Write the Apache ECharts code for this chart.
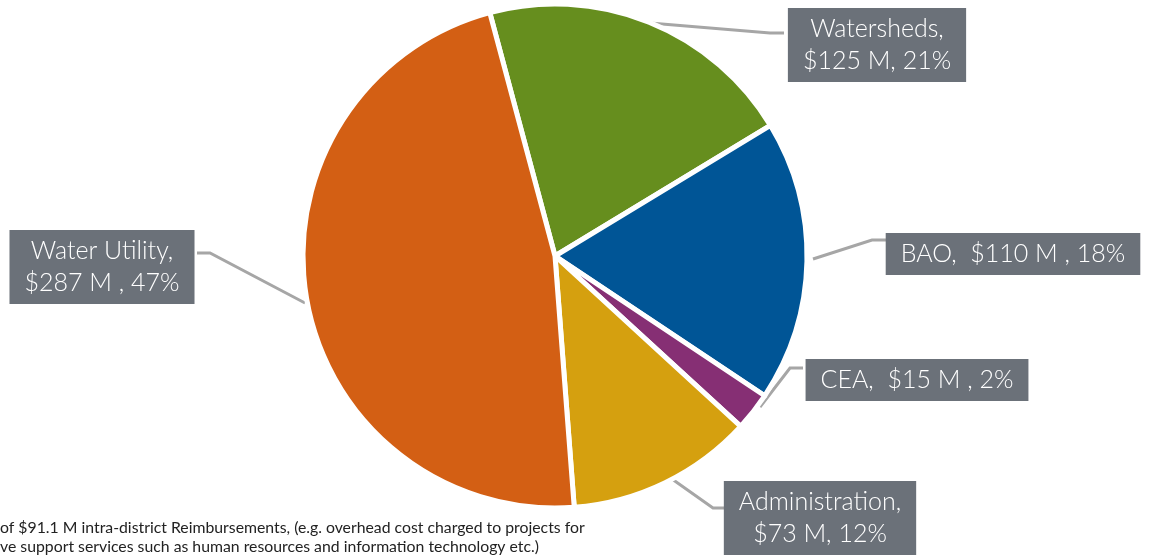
<!DOCTYPE html>
<html>
<head>
<meta charset="utf-8">
<script src="https://cdn.jsdelivr.net/npm/echarts@6/dist/echarts.min.js"></script>
<style>
	html, body { margin: 0; padding: 0; background: #fff; }
	#budgetpie { width: 1151px; height: 555px; }
</style>
</head>
<body>
<div id="budgetpie"></div>
<script>
	// slices, clockwise from the top
	var names = ['Watersheds', 'BAO', 'CEA', 'Administration', 'Water Utility'];
	var values = [125, 110, 15, 73, 287];          // $ M
	var pcts = ['21%', '18%', '2%', '12%', '47%'];
	var colors = ['#668e1e', '#005596', '#862f74', '#d5a00f', '#d35f14'];
	var labeltexts = [
		'Watersheds,\n$125 M, 21%',
		'BAO,  $110 M , 18%',
		'CEA,  $15 M , 2%',
		'Administration,\n$73 M, 12%',
		'Water Utility,\n$287 M , 47%'
	];
	var footnote = [
		'of $91.1 M intra-district Reimbursements, (e.g. overhead cost charged to projects for',
		've support services such as human resources and information technology etc.)'
	];

	// where each label box sits and how its leader runs
	var labelpos = [
		{ x: 877, y: 45, line: [[650, 23], [770, 33], [784, 33]] },
		{ x: 1013, y: 254, line: [[813, 259], [872, 240], [886, 240]] },
		{ x: 917, y: 380, line: [[760, 407], [790, 368], [803, 368]] },
		{ x: 820, y: 518, line: [[672, 479], [713, 508], [727, 508]] },
		{ x: 102, y: 267, line: [[305, 303], [210, 253], [197, 253]] }
	];

	var piedata = [];
	for (var i = 0; i < names.length; i++) {
		piedata.push({ name: names[i], value: values[i], itemStyle: { color: colors[i] } });
	}

	var mychart = echarts.init(document.getElementById('budgetpie'));
	mychart.setOption({
		animation: false,
		series: [{
			type: 'pie',
			center: [555, 256],
			radius: 252,
			startAngle: 105,
			clockwise: true,
			itemStyle: { borderColor: '#fff', borderWidth: 5 },
			label: {
				show: true,
				formatter: function (p) { return labeltexts[p.dataIndex]; },
				color: '#fff',
				fontFamily: 'Lato',
				fontWeight: 300,
				fontSize: 25,
				lineHeight: 32,
				align: 'center',
				backgroundColor: '#6b7179',
				padding: [6, 15, 4, 15]
			},
			labelLine: {
				show: true,
				lineStyle: { color: '#a6a6a6', width: 3 }
			},
			labelLayout: function (params) {
				var lp = labelpos[params.dataIndex];
				return {
					x: lp.x,
					y: lp.y,
					align: 'center',
					verticalAlign: 'middle',
					labelLinePoints: lp.line
				};
			},
			data: piedata
		}],
		graphic: [{
			type: 'text',
			left: 0,
			top: 518,
			style: {
				text: footnote.join('\n'),
				fill: '#222',
				fontFamily: 'Lato',
				fontSize: 15.8,
				lineHeight: 19
			}
		}]
	});
</script>
</body>
</html>
